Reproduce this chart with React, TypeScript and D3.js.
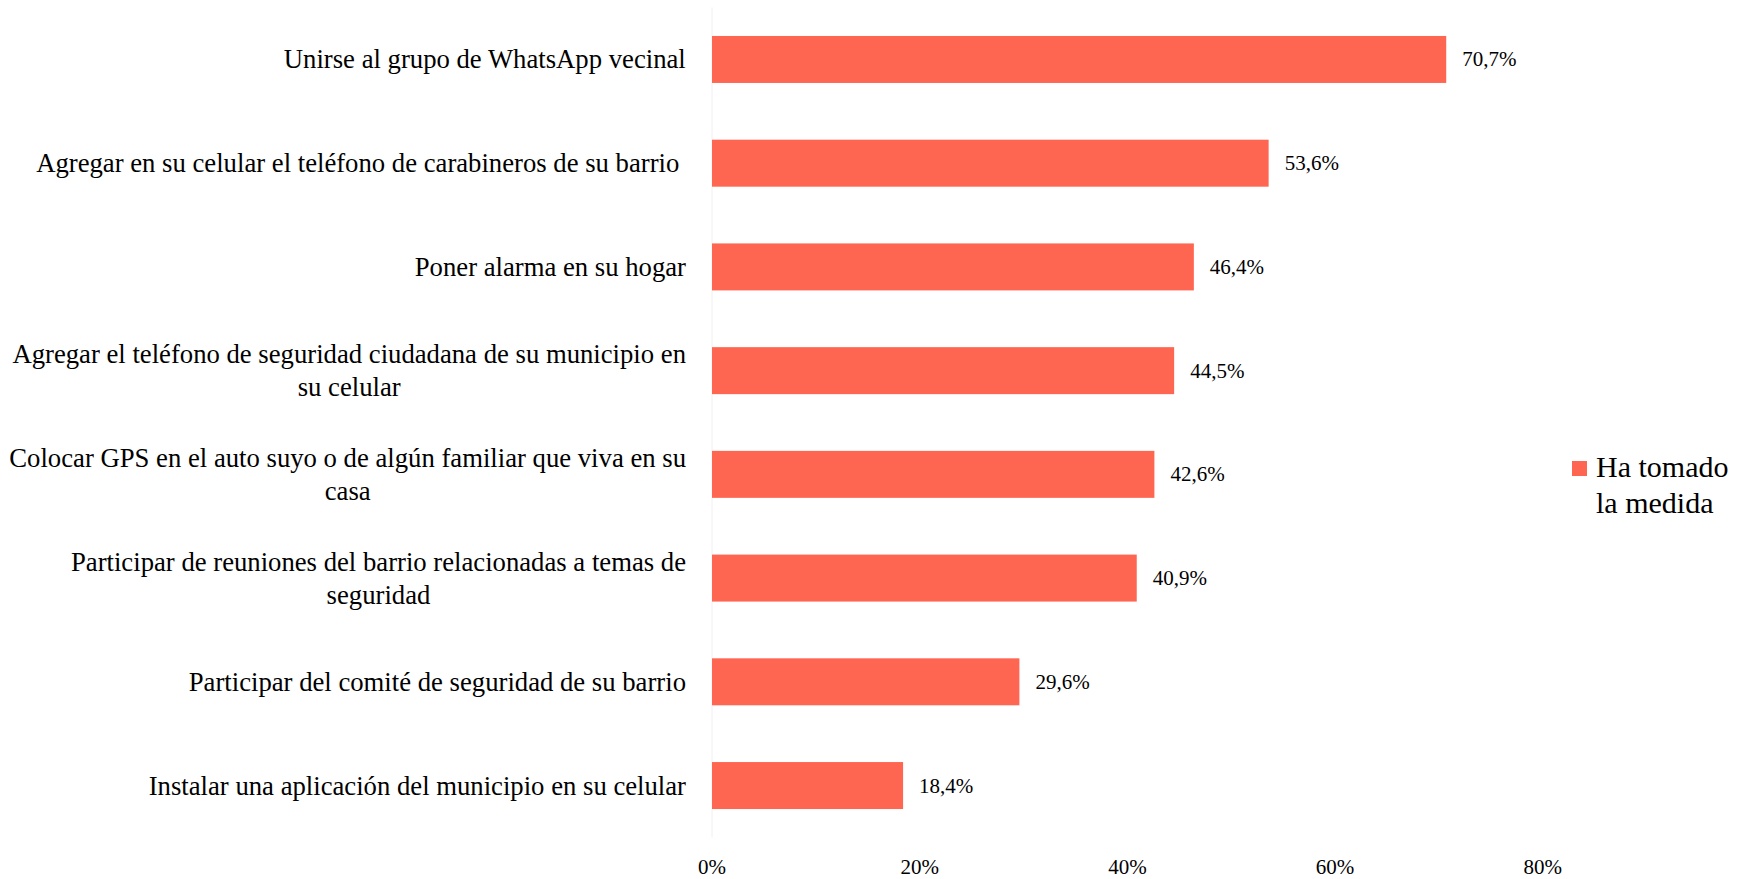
import React from "react";
import * as d3 from "d3";

const categories: string[][] = [
  ["Unirse al grupo de WhatsApp vecinal"],
  ["Agregar en su celular el teléfono de carabineros de su barrio "],
  ["Poner alarma en su hogar"],
  ["Agregar el teléfono de seguridad ciudadana de su municipio en", "su celular"],
  ["Colocar GPS en el auto suyo o de algún familiar que viva en su", "casa"],
  ["Participar de reuniones del barrio relacionadas a temas de", "seguridad"],
  ["Participar del comité de seguridad de su barrio"],
  ["Instalar una aplicación del municipio en su celular"],
];
const values: number[] = [70.7, 53.6, 46.4, 44.5, 42.6, 40.9, 29.6, 18.4];
const valueLabels: string[] = ["70,7%", "53,6%", "46,4%", "44,5%", "42,6%", "40,9%", "29,6%", "18,4%"];
const ticks: number[] = [0, 20, 40, 60, 80];
const tickLabels: string[] = ["0%", "20%", "40%", "60%", "80%"];
const seriesName: string[] = ["Ha tomado", "la medida"];

const W = 1744;
const H = 879;
const FONT = "'Liberation Serif', 'Times New Roman', serif";
const BAR = "#FF6652";

let ctx: CanvasRenderingContext2D | null = null;
function measure(text: string, size: number): number {
  if (!ctx) ctx = document.createElement("canvas").getContext("2d");
  if (!ctx) return text.length * size * 0.45;
  ctx.font = `${size}px ${FONT}`;
  return ctx.measureText(text).width;
}

export default function App() {
  const ids = categories.map((_, i) => String(i));
  const x = d3.scaleLinear().domain([0, 80]).range([712, 712 + 80 * 10.385]);
  const y = d3
    .scaleBand<string>()
    .domain(ids)
    .range([7.6, 837.4])
    .paddingInner(0.547)
    .paddingOuter(0.2735);
  const bw = y.bandwidth();
  const labelRight = 686;
  const catSize = 26.7;
  const lineH = 33;

  return (
    <svg
      width={W}
      height={H}
      style={{ position: "absolute", left: 0, top: 0, background: "#fff" }}
      fontFamily={FONT}
    >
      <rect x={0} y={0} width={W} height={H} fill="#fff" />
      <line x1={x(0)} x2={x(0)} y1={7.6} y2={837.4} stroke="#f0f0f0" strokeWidth={1} />
      {values.map((v, i) => {
        const yc = (y(ids[i]) as number) + bw / 2;
        return (
          <g key={i}>
            <rect x={x(0)} y={y(ids[i])} width={x(v) - x(0)} height={bw} fill={BAR} />
            <text x={x(v) + 16} y={yc + 7} fontSize={21} fill="#000">
              {valueLabels[i]}
            </text>
          </g>
        );
      })}
      {categories.map((lines, i) => {
        const yc = (y(ids[i]) as number) + bw / 2;
        const n = lines.length;
        const widths = lines.map((l) => measure(l, catSize));
        const trimmed = lines.map((l) => l.trimEnd());
        const trimW = trimmed.map((l) => measure(l, catSize));
        const maxW = Math.max(...widths);
        const cx = labelRight - maxW / 2;
        return (
          <g key={i}>
            {trimmed.map((l, j) => (
              <text
                key={j}
                x={cx - (widths[j] - trimW[j]) / 2}
                y={yc + (j - (n - 1) / 2) * lineH + 9}
                fontSize={catSize}
                textAnchor="middle"
                fill="#000"
              >
                {l}
              </text>
            ))}
          </g>
        );
      })}
      {ticks.map((t, i) => (
        <text key={i} x={x(t)} y={874} fontSize={21} textAnchor="middle" fill="#000">
          {tickLabels[i]}
        </text>
      ))}
      <rect x={1572} y={461} width={15} height={15} fill={BAR} />
      {seriesName.map((s, i) => (
        <text key={i} x={1596} y={476.7 + i * 36} fontSize={30} fill="#000">
          {s}
        </text>
      ))}
    </svg>
  );
}
